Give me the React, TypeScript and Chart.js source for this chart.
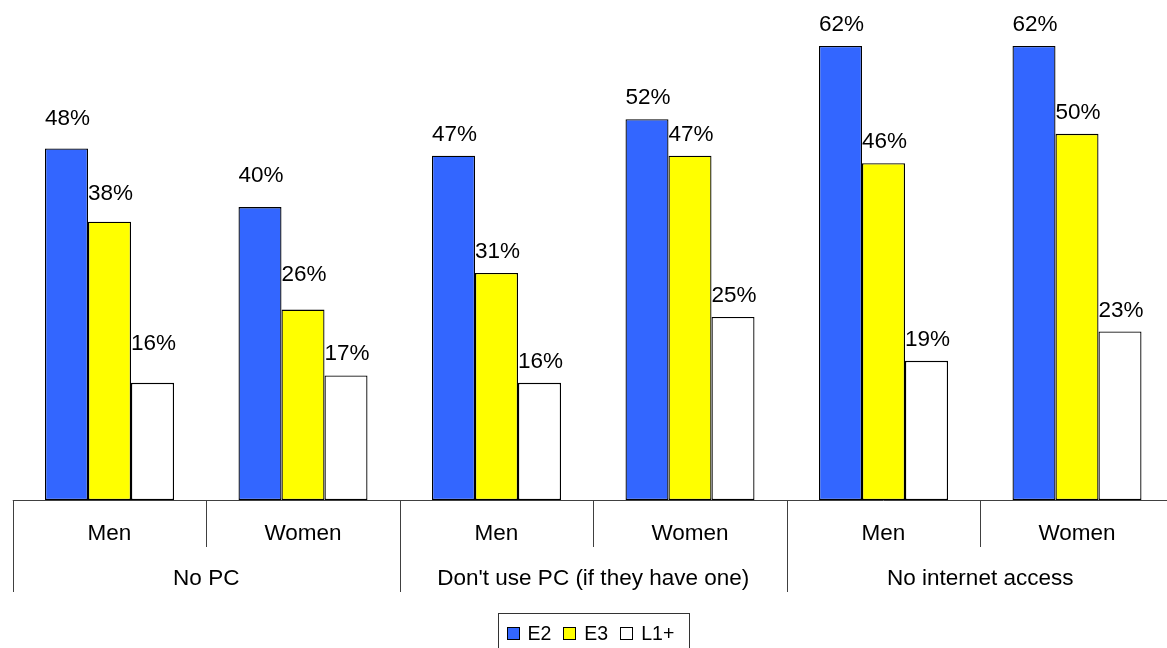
import React, { useEffect, useRef } from "react";
import { Chart, registerables } from "chart.js";

Chart.register(...registerables);

// ---- data ----
const CATEGORIES = ["Men", "Women", "Men", "Women", "Men", "Women"];
const GROUPS = ["No PC", "Don't use PC (if they have one)", "No internet access"];
const SERIES_NAMES = ["E2", "E3", "L1+"];
const E2 = [48, 40, 47, 52, 62, 62];
const E3 = [38, 26, 31, 47, 46, 50];
const L1 = [16, 17, 16, 25, 19, 23];
// extra lift (px) of a few value labels, as placed in the original
const LIFT_E2 = [8, 10, 0, 0, 0, 0];
const LIFT_E3 = [7, 14, 0, 0, 0, 0];
const LIFT_L1 = [18, 1, 0, 0, 0, 0];

const COLORS = ["#3366FF", "#FFFF00", "#FFFFFF"];
const FONT = '"Liberation Sans", Arial, Helvetica, sans-serif';
const LINE = "#404040";

const CANVAS_W = 1180;
const CANVAS_H = 648;

const annotatePlugin = {
  id: "annotate",
  afterDraw(chart: any) {
    const ctx = chart.ctx as CanvasRenderingContext2D;
    const area = chart.chartArea;
    const xs = chart.scales.x;
    const n = CATEGORIES.length;
    const cw = (area.right - area.left) / n;
    const base = area.bottom;

    ctx.save();
    // value labels
    const lifts = [LIFT_E2, LIFT_E3, LIFT_L1];
    ctx.font = `22.5px ${FONT}`;
    ctx.fillStyle = "#000";
    ctx.textAlign = "center";
    ctx.textBaseline = "alphabetic";
    chart.data.datasets.forEach((ds: any, di: number) => {
      const meta = chart.getDatasetMeta(di);
      meta.data.forEach((bar: any, i: number) => {
        const v = ds.data[i];
        ctx.fillText(`${v}%`, bar.x + 1, bar.y - 15 - lifts[di][i]);
      });
    });

    // axis line
    ctx.strokeStyle = LINE;
    ctx.lineWidth = 1;
    ctx.beginPath();
    ctx.moveTo(area.left, Math.round(base) + 0.5);
    ctx.lineTo(area.right, Math.round(base) + 0.5);
    ctx.stroke();

    // separators
    for (let i = 0; i <= n; i++) {
      const x = Math.round(area.left + i * cw) + 0.5;
      const len = i % 2 === 0 ? 92 : 47;
      ctx.beginPath();
      ctx.moveTo(x, base);
      ctx.lineTo(x, base + len);
      ctx.stroke();
    }

    // category labels
    ctx.fillStyle = "#000";
    ctx.font = `22.5px ${FONT}`;
    ctx.textAlign = "center";
    CATEGORIES.forEach((c, i) => {
      ctx.fillText(c, xs.getPixelForValue(i), base + 40);
    });
    GROUPS.forEach((g, gi) => {
      const cx = area.left + (gi * 2 + 1) * cw;
      ctx.fillText(g, cx, base + 85);
    });

    // legend
    const boxW = 191;
    const cxm = (area.left + area.right) / 2;
    const bl = Math.round(cxm - boxW / 2) + 0.5;
    const bt = base + 113 + 0.5;
    ctx.strokeStyle = "#333";
    ctx.strokeRect(bl, bt, boxW, 60);
    ctx.font = `19.5px ${FONT}`;
    ctx.textAlign = "left";
    let x = bl + 8;
    const sq = 13;
    chart.data.datasets.forEach((ds: any, di: number) => {
      ctx.fillStyle = COLORS[di];
      ctx.fillRect(Math.round(x), base + 127, sq, sq);
      ctx.strokeStyle = "#000";
      ctx.strokeRect(Math.round(x) + 0.5, base + 127 + 0.5, sq - 1, sq - 1);
      ctx.fillStyle = "#000";
      ctx.fillText(SERIES_NAMES[di], x + 21, base + 140);
      x += 21 + ctx.measureText(SERIES_NAMES[di]).width + 12;
    });
    ctx.restore();
  },
};

export default function App() {
  const ref = useRef<HTMLCanvasElement | null>(null);

  useEffect(() => {
    if (!ref.current) return;
    const values = [E2, E3, L1];
    const chart = new Chart(ref.current, {
      type: "bar",
      data: {
        labels: CATEGORIES,
        datasets: SERIES_NAMES.map((name, i) => ({
          label: name,
          data: values[i],
          backgroundColor: COLORS[i],
          borderColor: "#000",
          borderWidth: 1.3,
          borderSkipped: false,
          categoryPercentage: 0.6667,
          barPercentage: 1,
        })),
      },
      options: {
        responsive: false,
        animation: false,
        devicePixelRatio: 1,
        layout: { padding: { top: 24, bottom: 148, left: 12.75, right: 6.25 } },
        scales: {
          x: { display: false },
          y: { display: false, min: 0, max: 65 },
        },
        plugins: {
          legend: { display: false },
          tooltip: { enabled: false },
        },
      },
      plugins: [annotatePlugin],
    });
    return () => chart.destroy();
  }, []);

  return (
    <div
      style={{
        position: "fixed",
        left: 0,
        top: 0,
        width: 1167,
        height: 648,
        overflow: "hidden",
        background: "#fff",
      }}
    >
      <canvas ref={ref} width={CANVAS_W} height={CANVAS_H} style={{ display: "block" }} />
    </div>
  );
}
